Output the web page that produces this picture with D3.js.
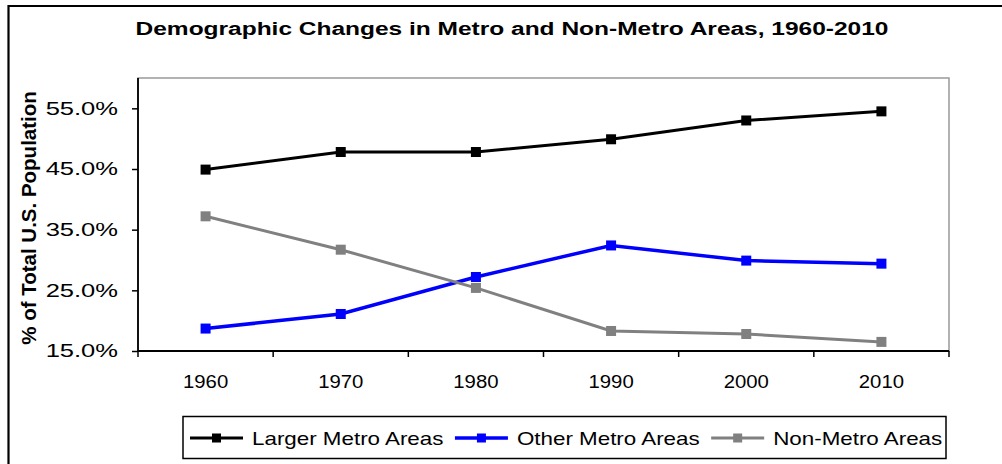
<!DOCTYPE html>
<html>
	<head>
		<title>Metro and Non-Metro Areas | D3</title>
		<script src="https://d3js.org/d3.v7.min.js" charset="utf-8"></script>
		<style>
			body {
				margin: 0;
				background: white;
				font-family: Arial, "Liberation Sans", sans-serif;
			}
			svg text {
				fill: #000;
			}
		</style>
	</head>
	<body>
		<script>
		// data
		var years = ["1960", "1970", "1980", "1990", "2000", "2010"];
		var largerMetro = [0.449, 0.478, 0.478, 0.499, 0.530, 0.545];
		var otherMetro = [0.187, 0.211, 0.272, 0.324, 0.299, 0.294];
		var nonMetro = [0.372, 0.317, 0.254, 0.183, 0.178, 0.165];
		var yTicks = [0.15, 0.25, 0.35, 0.45, 0.55];
		var seriesNames = ["Larger Metro Areas", "Other Metro Areas", "Non-Metro Areas"];

		var width = 1002;
		var height = 464;

		var series = [
			{name: seriesNames[0], values: largerMetro, color: "#000000", lw: 3},
			{name: seriesNames[1], values: otherMetro, color: "#0000ff", lw: 3.5},
			{name: seriesNames[2], values: nonMetro, color: "#808080", lw: 3}
		];

		var svg = d3.select("body")
			.append("svg")
			.attr("width", width)
			.attr("height", height);

		// text in the original is stretched sideways
		function stretchText(sel, x, y, sx) {
			sel.attr("transform", "translate(" + x + "," + y + ") scale(" + sx + ",1)");
		}

		// outer frame (left + top only visible)
		svg.append("path")
			.attr("d", "M8.5,470 L8.5,6 L1010,6")
			.attr("fill", "none")
			.attr("stroke", "#000")
			.attr("stroke-width", 2.2);

		var title = svg.append("text")
			.attr("text-anchor", "middle")
			.attr("font-size", "19px")
			.attr("font-weight", "bold")
			.text("Demographic Changes in Metro and Non-Metro Areas, 1960-2010");
		stretchText(title, 512, 35, 1.29);

		var plotLeft = 138, plotRight = 949, plotTop = 78, plotBottom = 351;

		var x = d3.scaleBand()
			.domain(years)
			.range([plotLeft, plotRight])
			.padding(0);

		var y = d3.scaleLinear()
			.domain([0.15, 0.60])
			.range([plotBottom, plotTop]);

		// plot border: grey top/right
		svg.append("rect")
			.attr("x", plotLeft)
			.attr("y", plotTop)
			.attr("width", plotRight - plotLeft)
			.attr("height", plotBottom - plotTop)
			.attr("fill", "white")
			.attr("stroke", "#999")
			.attr("stroke-width", 1.5);

		// y axis
		var yAxis = svg.append("g")
			.attr("transform", "translate(" + plotLeft + ",0)")
			.call(d3.axisLeft(y).tickValues(yTicks).tickSize(6).tickFormat(""));
		yAxis.select(".domain").remove();
		yAxis.selectAll("line").attr("stroke", "#000").attr("stroke-width", 1.5);

		svg.append("line")
			.attr("x1", plotLeft).attr("x2", plotLeft)
			.attr("y1", plotTop).attr("y2", plotBottom + 1)
			.attr("stroke", "#000")
			.attr("stroke-width", 1.8);

		var fmt = d3.format(".1%");
		yTicks.forEach(function(t) {
			var lbl = svg.append("text")
				.attr("text-anchor", "end")
				.attr("dominant-baseline", "central")
				.attr("font-size", "18.5px")
				.text(fmt(t));
			stretchText(lbl, 118, y(t), 1.38);
		});

		// x axis: ticks sit between categories
		svg.append("line")
			.attr("x1", plotLeft).attr("x2", plotRight)
			.attr("y1", plotBottom).attr("y2", plotBottom)
			.attr("stroke", "#000")
			.attr("stroke-width", 1.8);

		var bounds = years.map(function(d) { return x(d); }).concat([x(years[years.length - 1]) + x.bandwidth()]);
		svg.append("g")
			.selectAll("line")
			.data(bounds)
			.enter()
			.append("line")
			.attr("x1", function(d) { return d; })
			.attr("x2", function(d) { return d; })
			.attr("y1", plotBottom)
			.attr("y2", plotBottom + 6)
			.attr("stroke", "#000")
			.attr("stroke-width", 1.5);

		years.forEach(function(yr) {
			var lbl = svg.append("text")
				.attr("text-anchor", "middle")
				.attr("font-size", "18px")
				.text(yr);
			stretchText(lbl, x(yr) + x.bandwidth() / 2, 387.5, 1.13);
		});

		// y axis title
		svg.append("text")
			.attr("transform", "translate(36,218) rotate(-90)")
			.attr("text-anchor", "middle")
			.attr("font-size", "20.5px")
			.attr("font-weight", "bold")
			.text("% of Total U.S. Population");

		// lines
		var line = d3.line()
			.x(function(d, i) { return x(years[i]) + x.bandwidth() / 2; })
			.y(function(d) { return y(d); });

		series.forEach(function(s) {
			var g = svg.append("g");
			g.append("path")
				.datum(s.values)
				.attr("fill", "none")
				.attr("stroke", s.color)
				.attr("stroke-width", s.lw)
				.attr("d", line);
			g.selectAll("rect")
				.data(s.values)
				.enter()
				.append("rect")
				.attr("x", function(d, i) { return x(years[i]) + x.bandwidth() / 2 - 5; })
				.attr("y", function(d) { return y(d) - 5; })
				.attr("width", 10)
				.attr("height", 10)
				.attr("fill", s.color);
		});

		// legend
		var legend = svg.append("g");
		legend.append("rect")
			.attr("x", 183)
			.attr("y", 416.5)
			.attr("width", 763)
			.attr("height", 42)
			.attr("fill", "white")
			.attr("stroke", "#000")
			.attr("stroke-width", 1.5);

		var lx = 190;
		var ly = 438;
		series.forEach(function(s) {
			legend.append("line")
				.attr("x1", lx).attr("x2", lx + 53)
				.attr("y1", ly).attr("y2", ly)
				.attr("stroke", s.color)
				.attr("stroke-width", s.lw);
			legend.append("rect")
				.attr("x", lx + 22).attr("y", ly - 4.5)
				.attr("width", 9).attr("height", 9)
				.attr("fill", s.color);
			var t = legend.append("text")
				.attr("font-size", "18.5px")
				.attr("dominant-baseline", "central")
				.text(s.name);
			stretchText(t, lx + 62, ly, 1.21);
			lx = lx + 62 + t.node().getComputedTextLength() * 1.21 + 11.5;
		});

		</script>
	</body>
</html>
